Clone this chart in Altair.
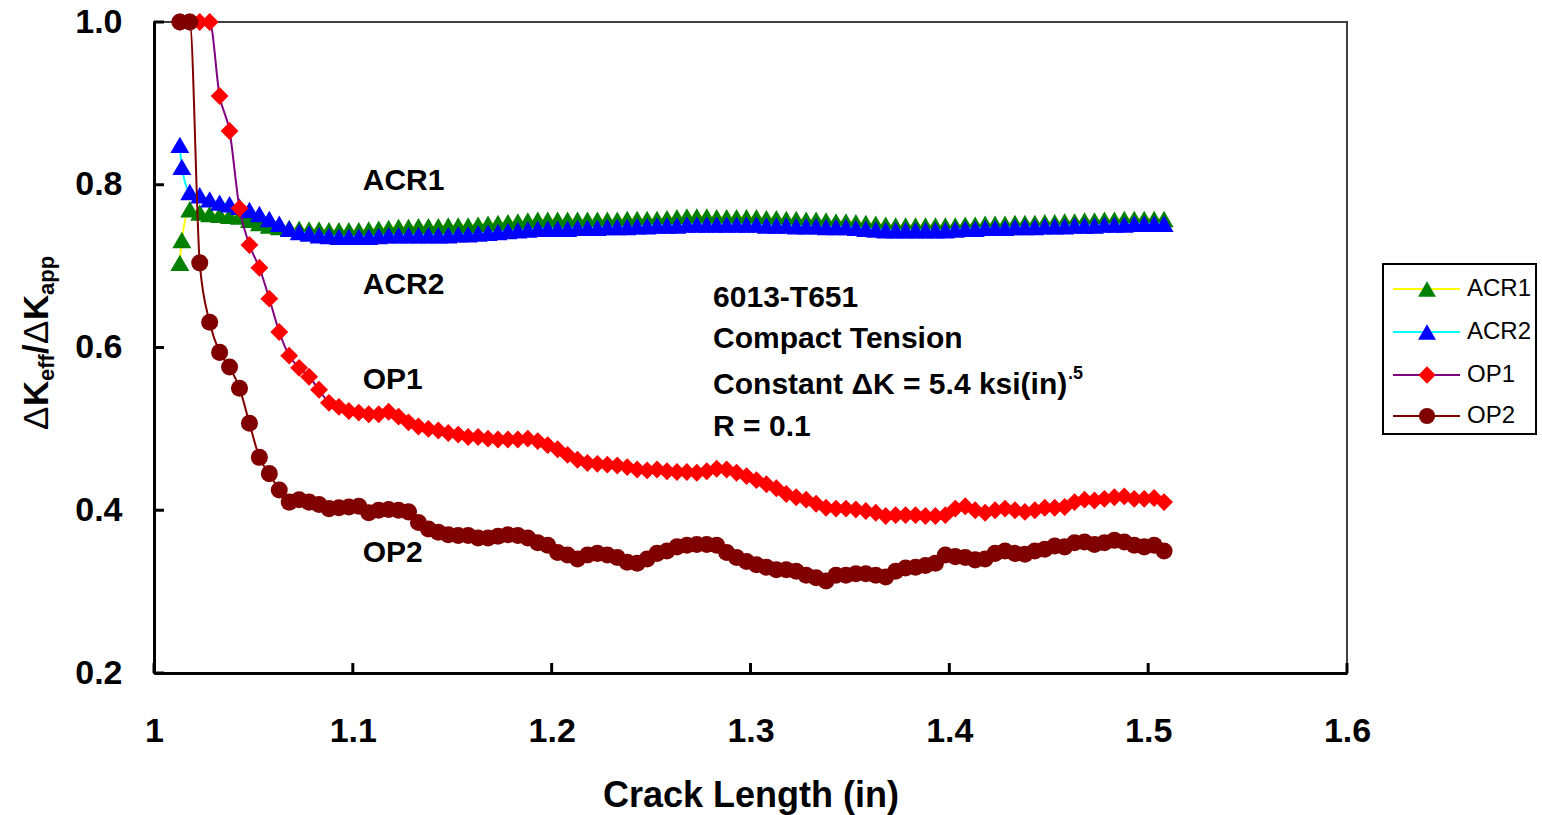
import altair as alt
import pandas as pd

FONT = "Liberation Sans, Arial, sans-serif"

# Crack length grid (in) shared by the opening-load series
X = [1.013, 1.018, 1.023, 1.028, 1.033, 1.038, 1.043, 1.048, 1.053, 1.058,
     1.063, 1.068, 1.073, 1.078, 1.083, 1.088, 1.093, 1.098, 1.103, 1.108,
     1.113, 1.118, 1.123, 1.128, 1.133, 1.138, 1.143, 1.148, 1.153, 1.158,
     1.163, 1.168, 1.173, 1.178, 1.183, 1.188, 1.193, 1.198, 1.203, 1.208,
     1.213, 1.218, 1.223, 1.228, 1.233, 1.238, 1.243, 1.248, 1.253, 1.258,
     1.263, 1.268, 1.273, 1.278, 1.283, 1.288, 1.293, 1.298, 1.303, 1.308,
     1.313, 1.318, 1.323, 1.328, 1.333, 1.338, 1.343, 1.348, 1.353, 1.358,
     1.363, 1.368, 1.373, 1.378, 1.383, 1.388, 1.393, 1.398, 1.403, 1.408,
     1.413, 1.418, 1.423, 1.428, 1.433, 1.438, 1.443, 1.448, 1.453, 1.458,
     1.463, 1.468, 1.473, 1.478, 1.483, 1.488, 1.493, 1.498, 1.503, 1.508]

# The ACR records start with two closely spaced readings
X_ACR = [1.013, 1.014] + X[1:]

ACR1 = [0.704, 0.732, 0.770, 0.766, 0.764, 0.763, 0.762, 0.761, 0.757, 0.753,
        0.750, 0.748, 0.747, 0.746, 0.745, 0.745, 0.744, 0.744, 0.744, 0.744,
        0.745, 0.746, 0.747, 0.748, 0.748, 0.749, 0.749, 0.749, 0.750, 0.750,
        0.750, 0.751, 0.752, 0.753, 0.754, 0.755, 0.756, 0.757, 0.757, 0.757,
        0.757, 0.757, 0.757, 0.757, 0.757, 0.757, 0.758, 0.758, 0.758, 0.758,
        0.759, 0.760, 0.761, 0.761, 0.761, 0.760, 0.760, 0.760, 0.760, 0.760,
        0.759, 0.759, 0.758, 0.758, 0.757, 0.757, 0.756, 0.755, 0.755, 0.754,
        0.753, 0.752, 0.751, 0.750, 0.750, 0.750, 0.750, 0.750, 0.750, 0.750,
        0.751, 0.751, 0.752, 0.752, 0.752, 0.753, 0.753, 0.753, 0.754, 0.754,
        0.755, 0.755, 0.756, 0.756, 0.757, 0.757, 0.758, 0.758, 0.758, 0.758,
        0.758]

ACR2 = [0.849, 0.822, 0.791, 0.787, 0.782, 0.778, 0.776, 0.773, 0.769, 0.764,
        0.758, 0.752, 0.746, 0.742, 0.740, 0.738, 0.737, 0.736, 0.736, 0.736,
        0.736, 0.737, 0.738, 0.738, 0.738, 0.738, 0.738, 0.738, 0.738, 0.739,
        0.739, 0.740, 0.741, 0.742, 0.743, 0.744, 0.745, 0.746, 0.746, 0.746,
        0.746, 0.747, 0.747, 0.747, 0.748, 0.748, 0.748, 0.749, 0.749, 0.750,
        0.750, 0.750, 0.751, 0.751, 0.751, 0.751, 0.751, 0.751, 0.751, 0.751,
        0.750, 0.750, 0.750, 0.749, 0.749, 0.749, 0.748, 0.748, 0.748, 0.747,
        0.746, 0.745, 0.744, 0.744, 0.744, 0.744, 0.744, 0.744, 0.744, 0.745,
        0.746, 0.746, 0.747, 0.747, 0.747, 0.748, 0.748, 0.748, 0.749, 0.749,
        0.749, 0.750, 0.750, 0.750, 0.751, 0.751, 0.751, 0.752, 0.752, 0.752,
        0.752]

OP1 = [1.000, 1.000, 1.000, 1.000, 0.909, 0.866, 0.771, 0.726, 0.698, 0.660,
       0.619, 0.590, 0.575, 0.564, 0.548, 0.532, 0.527, 0.522, 0.520, 0.518,
       0.518, 0.521, 0.515, 0.508, 0.503, 0.500, 0.498, 0.495, 0.493, 0.490,
       0.490, 0.488, 0.487, 0.487, 0.487, 0.488, 0.485, 0.480, 0.475, 0.468,
       0.462, 0.458, 0.457, 0.456, 0.455, 0.453, 0.450, 0.449, 0.450, 0.448,
       0.447, 0.447, 0.446, 0.448, 0.451, 0.450, 0.446, 0.442, 0.437, 0.432,
       0.427, 0.420, 0.416, 0.413, 0.408, 0.403, 0.402, 0.402, 0.401, 0.399,
       0.397, 0.393, 0.394, 0.394, 0.394, 0.393, 0.393, 0.394, 0.402, 0.405,
       0.400, 0.397, 0.400, 0.402, 0.400, 0.398, 0.400, 0.403, 0.403, 0.404,
       0.410, 0.413, 0.412, 0.414, 0.416, 0.417, 0.414, 0.414, 0.415, 0.410]

OP2 = [1.000, 1.000, 0.704, 0.631, 0.594, 0.576, 0.550, 0.507, 0.465, 0.445,
       0.425, 0.410, 0.413, 0.410, 0.407, 0.402, 0.403, 0.404, 0.405, 0.397,
       0.400, 0.401, 0.400, 0.398, 0.385, 0.377, 0.373, 0.370, 0.369, 0.369,
       0.366, 0.366, 0.368, 0.370, 0.369, 0.366, 0.360, 0.357, 0.348, 0.345,
       0.340, 0.345, 0.347, 0.345, 0.342, 0.336, 0.335, 0.340, 0.347, 0.350,
       0.355, 0.357, 0.358, 0.358, 0.357, 0.348, 0.342, 0.337, 0.333, 0.330,
       0.327, 0.327, 0.325, 0.320, 0.317, 0.313, 0.320, 0.320, 0.322, 0.322,
       0.320, 0.318, 0.325, 0.329, 0.330, 0.332, 0.335, 0.345, 0.343, 0.342,
       0.339, 0.340, 0.347, 0.350, 0.347, 0.346, 0.350, 0.352, 0.356, 0.355,
       0.360, 0.361, 0.358, 0.360, 0.363, 0.361, 0.357, 0.355, 0.357, 0.350]

X_TICKS = [1.0, 1.1, 1.2, 1.3, 1.4, 1.5, 1.6]
Y_TICKS = [0.2, 0.4, 0.6, 0.8, 1.0]

# name, x, y, line colour, marker colour, marker shape
SERIES = [
    ("ACR1", X_ACR, ACR1, "#FFFF00", "#008000", "triangle-up"),
    ("ACR2", X_ACR, ACR2, "#00FFFF", "#0000FF", "triangle-up"),
    ("OP1", X, OP1, "#800080", "#FF0000", "diamond"),
    ("OP2", X, OP2, "#800000", "#800000", "circle"),
]
MARKER_SIZE = {"triangle-up": 360, "diamond": 320, "circle": 290}
LEGEND_SIZE = {"triangle-up": 320, "diamond": 300, "circle": 260}

W, H = 1193, 651

xscale = alt.Scale(domain=[1.0, 1.6], nice=False, zero=False)
yscale = alt.Scale(domain=[0.2, 1.0], nice=False, zero=False)
xaxis = alt.Axis(values=X_TICKS, format="~g", title="Crack Length (in)",
                 labelPadding=41, titleY=133, titleBaseline="alphabetic")
yaxis = alt.Axis(values=Y_TICKS, format=".1f", title=None, labelPadding=32)

layers = []
for name, xs, ys, lcol, mcol, shape in SERIES:
    df = pd.DataFrame({"crack": xs, "ratio": ys, "series": name})
    base = alt.Chart(df).encode(
        x=alt.X("crack:Q", scale=xscale, axis=xaxis),
        y=alt.Y("ratio:Q", scale=yscale, axis=yaxis),
    )
    layers.append(base.mark_line(color=lcol, strokeWidth=2, interpolate="monotone"))
    layers.append(base.mark_point(shape=shape, filled=True, color=mcol,
                                  size=MARKER_SIZE[shape], opacity=1))

# inward tick marks
xt = pd.DataFrame({"v": X_TICKS})
yt = pd.DataFrame({"v": Y_TICKS})
layers.append(alt.Chart(xt).mark_rule(color="black", strokeWidth=3).encode(
    x=alt.X("v:Q", scale=xscale, axis=xaxis), y=alt.value(H), y2=alt.value(H - 10)))
layers.append(alt.Chart(yt).mark_rule(color="black", strokeWidth=3).encode(
    y=alt.Y("v:Q", scale=yscale, axis=yaxis), x=alt.value(0), x2=alt.value(10)))

# series labels and test conditions
labels = pd.DataFrame({
    "cx": [1.105, 1.105, 1.105, 1.105, 1.2812, 1.2812, 1.2812, 1.2812],
    "cy": [0.805, 0.677, 0.560, 0.348, 0.661, 0.610, 0.554, 0.502],
    "txt": ["ACR1", "ACR2", "OP1", "OP2", "6013-T651", "Compact Tension",
            "Constant \u0394K = 5.4 ksi(in)", "R = 0.1"],
})
layers.append(alt.Chart(labels).mark_text(
    font=FONT, fontSize=30, fontWeight="bold", align="left", baseline="middle",
    color="black").encode(
    x=alt.X("cx:Q", scale=xscale, axis=xaxis),
    y=alt.Y("cy:Q", scale=yscale, axis=yaxis), text="txt:N"))
sup = pd.DataFrame({"cx": [1.4597], "cy": [0.567], "txt": [".5"]})
layers.append(alt.Chart(sup).mark_text(
    font=FONT, fontSize=18, fontWeight="bold", align="left", baseline="middle",
    color="black").encode(
    x=alt.X("cx:Q", scale=xscale, axis=xaxis),
    y=alt.Y("cy:Q", scale=yscale, axis=yaxis), text="txt:N"))

one = pd.DataFrame({"k": [0]})

# rotated y-axis title with subscripts
TITLE_PARTS = [
    ("\u0394", 35, "normal", -106, 408),
    ("K", 35, "bold", -106, 384),
    ("eff", 22, "bold", -100, 359),
    ("/", 35, "bold", -106, 332),
    ("\u0394", 35, "normal", -106, 322),
    ("K", 35, "bold", -106, 298),
    ("app", 22, "bold", -100, 273),
]
for txt, fs, fw, px, py in TITLE_PARTS:
    layers.append(alt.Chart(one).mark_text(
        text=txt, font=FONT, fontSize=fs, fontWeight=fw, angle=270,
        align="left", baseline="alphabetic", color="black").encode(
        x=alt.value(px), y=alt.value(py)))

# legend box
layers.append(alt.Chart(one).mark_rect(fill="white", stroke="black", strokeWidth=2).encode(
    x=alt.value(1229), x2=alt.value(1382), y=alt.value(242), y2=alt.value(412)))
LEG_Y = [267, 310, 353, 394]
for (name, _, _, lcol, mcol, shape), ly in zip(SERIES, LEG_Y):
    layers.append(alt.Chart(one).mark_rule(color=lcol, strokeWidth=2).encode(
        x=alt.value(1239), x2=alt.value(1306), y=alt.value(ly)))
    layers.append(alt.Chart(one).mark_point(
        shape=shape, filled=True, color=mcol, size=LEGEND_SIZE[shape], opacity=1).encode(
        x=alt.value(1273), y=alt.value(ly)))
    layers.append(alt.Chart(one).mark_text(
        text=name, font=FONT, fontSize=24, align="left", baseline="middle",
        color="black").encode(x=alt.value(1313), y=alt.value(ly)))

chart = alt.layer(*layers).properties(
    width=W, height=H,
    autosize=alt.AutoSizeParams(type="none"),
    padding={"left": 154, "top": 22, "right": 195, "bottom": 142},
    background="white",
).configure_view(
    stroke="#404040", strokeWidth=2
).configure_axis(
    domainColor="black", domainWidth=3, grid=False, ticks=False, tickSize=0,
    labelFont=FONT, labelFontSize=34, labelFontWeight="bold", labelColor="black",
    labelFlush=False, labelOverlap=False,
    titleFont=FONT, titleFontSize=36, titleFontWeight="bold", titleColor="black",
)

chart.save("out.html", embed_options={"renderer": "svg", "actions": False})
